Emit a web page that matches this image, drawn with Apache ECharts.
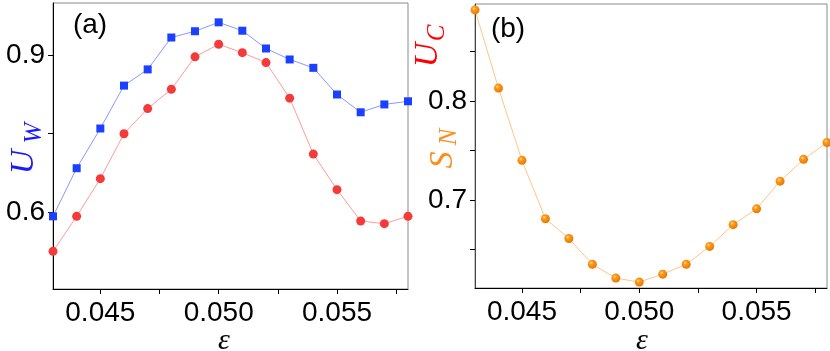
<!doctype html>
<html>
<head>
<meta charset="utf-8">
<title>U_W, U_C, S_N vs epsilon</title>
<script src="https://cdn.jsdelivr.net/npm/echarts@6/dist/echarts.min.js"></script>
<style>
  html, body { margin: 0; padding: 0; background: #fff; }
  #main { width: 830px; height: 351px; }
</style>
</head>
<body>
<div id="main"></div>
<script type="text/javascript">
// epsilon values (x axis, both panels)
var eps = [0.043, 0.044, 0.045, 0.046, 0.047, 0.048, 0.049, 0.050,
           0.051, 0.052, 0.053, 0.054, 0.055, 0.056, 0.057, 0.058];
// panel (a)
var uw = [0.592, 0.684, 0.760, 0.842, 0.873, 0.934, 0.946, 0.963,
          0.947, 0.913, 0.892, 0.876, 0.825, 0.791, 0.806, 0.812];
var uc = [0.525, 0.592, 0.664, 0.750, 0.798, 0.835, 0.897, 0.921,
          0.905, 0.886, 0.818, 0.711, 0.643, 0.583, 0.578, 0.592];
// panel (b)
var sn = [0.892, 0.813, 0.740, 0.681, 0.661, 0.635, 0.621, 0.617,
          0.625, 0.635, 0.653, 0.675, 0.691, 0.719, 0.741, 0.758];

var xTicks = [0.045, 0.0475, 0.050, 0.0525, 0.055, 0.0575];
var xLabels = [0.045, 0.050, 0.055];
var yTicksA = [0.6, 0.75, 0.9];
var yLabelsA = [0.6, 0.9];
var yTicksB = [0.65, 0.7, 0.75, 0.8, 0.85];
var yLabelsB = [0.7, 0.8];

function pairs(xs, ys) {
    var out = [];
    for (var i = 0; i < xs.length; i++) out.push([xs[i], ys[i]]);
    return out;
}

var font = "'Liberation Sans', Arial, sans-serif";
var serif = "'Liberation Serif', 'Times New Roman', serif";

function xAxisOf(idx, lineColor) {
    return {
        type: 'value', gridIndex: idx, min: 0.043, max: 0.058,
        axisLine: { onZero: false, lineStyle: { color: lineColor, width: 1 } },
        axisTick: { customValues: xTicks, length: 5, lineStyle: { color: '#000' } },
        axisLabel: { customValues: xLabels, margin: 10, color: '#000', fontSize: 28, fontFamily: font,
                     formatter: function (v) { return v.toFixed(3); } },
        splitLine: { show: false }
    };
}

function yAxisOf(idx, min, max, ticks, labels, lineColor) {
    return {
        type: 'value', gridIndex: idx, min: min, max: max,
        axisLine: { show: true, onZero: false, lineStyle: { color: lineColor, width: 1 } },
        axisTick: { show: true, customValues: ticks, length: 5, lineStyle: { color: '#000' } },
        axisLabel: { customValues: labels, margin: 8, color: '#000', fontSize: 28, fontFamily: font,
                     formatter: function (v) { return v.toFixed(1); } },
        splitLine: { show: false }
    };
}

function txt(x, y, s, size, color, fam, style, rot) {
    return {
        type: 'text', x: x, y: y, rotation: rot || 0,
        style: { text: s, fill: color, font: (style || 'normal') + ' ' + size + 'px ' + fam,
                 align: 'center', verticalAlign: 'middle' }
    };
}

var myChart = echarts.init(document.getElementById('main'));

var option = {
    animation: false,
    grid: [
        { left: 53, right: 422, top: 3, bottom: 62, show: true, borderColor: '#8a8a8a', borderWidth: 1 },
        { left: 475, right: 3, top: 4, bottom: 63, show: true, borderColor: '#8a8a8a', borderWidth: 1 }
    ],
    xAxis: [xAxisOf(0, '#000'), xAxisOf(1, '#000')],
    yAxis: [
        yAxisOf(0, 0.453, 1.0, yTicksA, yLabelsA, '#000'),
        yAxisOf(1, 0.611, 0.898, yTicksB, yLabelsB, '#444')
    ],
    series: [
        {
            name: 'UW', type: 'line', xAxisIndex: 0, yAxisIndex: 0,
            data: pairs(eps, uw), symbol: 'rect', symbolSize: 8,
            itemStyle: { color: '#1c40ff' },
            lineStyle: { color: '#8898ff', width: 1 }
        },
        {
            name: 'UC', type: 'line', xAxisIndex: 0, yAxisIndex: 0,
            data: pairs(eps, uc), symbol: 'circle', symbolSize: 9,
            itemStyle: { color: '#f53a3a' },
            lineStyle: { color: '#ff9a9a', width: 1 }
        },
        {
            name: 'SN', type: 'line', xAxisIndex: 1, yAxisIndex: 1,
            data: pairs(eps, sn), symbol: 'circle', symbolSize: 9,
            itemStyle: {
                color: new echarts.graphic.RadialGradient(0.38, 0.35, 0.65, [
                    { offset: 0, color: '#ffe2b0' },
                    { offset: 0.3, color: '#ff9a1a' },
                    { offset: 1, color: '#e87800' }
                ])
            },
            lineStyle: { color: '#ffc48a', width: 1 }
        }
    ],
    graphic: [
        txt(90, 25, '(a)', 28, '#000', font),
        txt(508, 29, '(b)', 28, '#000', font),
        // y labels, rotated
        txt(24, 162, 'U', 34, '#1a1aff', serif, 'italic', Math.PI / 2),
        txt(34, 133, 'W', 25, '#1a1aff', serif, 'italic', Math.PI / 2),
        txt(428, 55, 'U', 34, '#ff0000', serif, 'italic', Math.PI / 2),
        txt(437, 33, 'C', 25, '#ff0000', serif, 'italic', Math.PI / 2),
        txt(443, 160, 'S', 34, '#ff8c1a', serif, 'italic', Math.PI / 2),
        txt(449, 137, 'N', 25, '#ff8c1a', serif, 'italic', Math.PI / 2),
        // x labels
        txt(224, 341, 'ε', 30, '#000', serif, 'italic'),
        txt(642, 341, 'ε', 30, '#000', serif, 'italic')
    ]
};

myChart.setOption(option);
</script>
</body>
</html>
